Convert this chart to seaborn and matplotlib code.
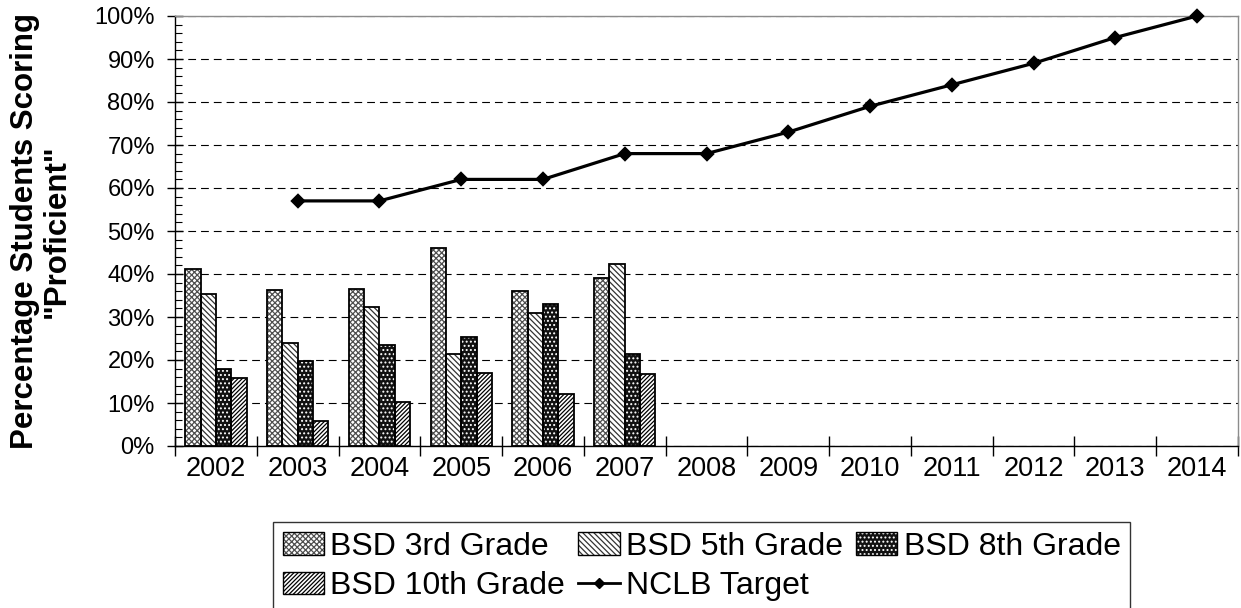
import numpy as np
import pandas as pd
import matplotlib
matplotlib.use("Agg")
import matplotlib.pyplot as plt
import seaborn as sns
from matplotlib.patches import Rectangle, Patch
from matplotlib.lines import Line2D
from matplotlib.legend_handler import HandlerBase
from matplotlib.ticker import MultipleLocator, FuncFormatter, FixedLocator

# data (percent)
all_years = [str(y) for y in range(2002, 2015)]
bar_years = ["2002", "2003", "2004", "2005", "2006", "2007"]
grades = ["BSD 3rd Grade", "BSD 5th Grade", "BSD 8th Grade", "BSD 10th Grade"]
grade3 = [41.1, 36.3, 36.5, 46.0, 36.0, 39.0]
grade5 = [35.3, 24.0, 32.4, 21.5, 31.0, 42.3]
grade8 = [17.9, 19.8, 23.6, 25.4, 33.0, 21.5]
grade10 = [15.7, 5.9, 10.3, 16.9, 12.0, 16.7]
target_years = ["2003", "2004", "2005", "2006", "2007", "2008",
                "2009", "2010", "2011", "2012", "2013", "2014"]
target_vals = [57, 57, 62, 62, 68, 68, 73, 79, 84, 89, 95, 100]

df = pd.DataFrame({
    "year": bar_years * 4,
    "grade": np.repeat(grades, len(bar_years)),
    "value": grade3 + grade5 + grade8 + grade10,
})

# (face, hatch, hatch colour) per grade
styles = {
    "BSD 3rd Grade": ("white", "xxxxxx", "#4f4f4f"),
    "BSD 5th Grade": ("white", "\\\\\\\\\\\\", "#333333"),
    "BSD 8th Grade": ("#111111", "....", "white"),
    "BSD 10th Grade": ("white", "////////", "black"),
}

plt.rcParams["font.family"] = ["Liberation Sans", "DejaVu Sans"]
plt.rcParams["hatch.linewidth"] = 0.9

fig = plt.figure(figsize=(12.41, 6.08), dpi=100)
ax = fig.add_axes([175 / 1241, 1 - 446 / 608, 1063 / 1241, 430 / 608])

sns.barplot(data=df, x="year", y="value", hue="grade", order=all_years,
            hue_order=grades, width=0.75, errorbar=None, legend=False, ax=ax)

for grade, cont in zip(grades, ax.containers):
    face, hatch, hcol = styles[grade]
    for p in cont.patches:
        p.set_facecolor(face)
        p.set_hatch(hatch)
        p.set_edgecolor(hcol)
        p.set_linewidth(0)
        ax.add_patch(Rectangle(p.get_xy(), p.get_width(), p.get_height(),
                               fill=False, edgecolor="black", lw=1.3, zorder=3))

sns.pointplot(x=target_years, y=target_vals, order=all_years, color="black",
              markers="D", markersize=6.5, linewidth=2.3, ax=ax)
for ln in ax.lines:
    ln.set_clip_on(False)
    ln.set_zorder(5)
if ax.get_legend() is not None:
    ax.get_legend().remove()

ax.set_ylim(0, 100)
ax.set_xlim(-0.5, len(all_years) - 0.5)
ax.yaxis.set_major_locator(MultipleLocator(10))
ax.yaxis.set_minor_locator(MultipleLocator(2))
ax.yaxis.set_major_formatter(FuncFormatter(lambda v, pos: f"{v:.0f}%"))
ax.yaxis.grid(True, which="major", color="black", lw=0.8, linestyle=(0, (7, 4.5)))
ax.set_axisbelow(True)

ax.xaxis.set_minor_locator(FixedLocator(np.arange(-0.5, len(all_years), 1.0)))
ax.tick_params(axis="x", which="major", length=0, labelsize=19.5, pad=7)
ax.tick_params(axis="x", which="minor", direction="inout", length=14, width=1)
ax.tick_params(axis="y", which="major", direction="inout", length=11, width=1,
               labelsize=17, pad=9)
ax.tick_params(axis="y", which="minor", direction="in", length=5, width=0.8)

for s in ["top", "right"]:
    ax.spines[s].set_color("#8c8c8c")
    ax.spines[s].set_linewidth(1.0)
for s in ["left", "bottom"]:
    ax.spines[s].set_linewidth(1.0)
    ax.spines[s].set_color("black")

ax.set_xlabel("")
ax.set_ylabel('Percentage Students Scoring\n"Proficient"', fontsize=22.5,
              fontweight="bold", linespacing=1.1)
ax.yaxis.set_label_coords(-0.097, 0.5)


class HatchHandler(HandlerBase):
    def create_artists(self, legend, orig, xd, yd, w, h, fontsize, trans):
        fill = Rectangle((-xd, -yd), w, h, facecolor=orig.get_facecolor(),
                         edgecolor=orig.get_edgecolor(), hatch=orig.get_hatch(),
                         lw=0, transform=trans)
        edge = Rectangle((-xd, -yd), w, h, fill=False, edgecolor="black",
                         lw=1, transform=trans)
        return [fill, edge]


handles = {}
for g in grades:
    face, hatch, hcol = styles[g]
    handles[g] = Patch(facecolor=face, hatch=hatch, edgecolor=hcol, label=g)
line_h = Line2D([], [], color="black", lw=2, marker="D", markersize=5,
                label="NCLB Target")
# ncol fills column-wise; reorder so rows read 3rd,5th,8th / 10th,NCLB
order = [handles["BSD 3rd Grade"], handles["BSD 10th Grade"],
         handles["BSD 5th Grade"], line_h, handles["BSD 8th Grade"]]
leg = fig.legend(handles=order, labels=[h.get_label() for h in order],
                 ncol=3, loc="upper left", bbox_to_anchor=(273 / 1241, 1 - 522 / 608),
                 borderaxespad=0, fontsize=23, frameon=True, fancybox=False,
                 edgecolor="black", handlelength=1.3, handletextpad=0.2,
                 columnspacing=0.4, labelspacing=0.3, borderpad=0.3,
                 handler_map={Patch: HatchHandler()})
leg.get_frame().set_linewidth(1.0)

fig.savefig("out.png", dpi=100)
